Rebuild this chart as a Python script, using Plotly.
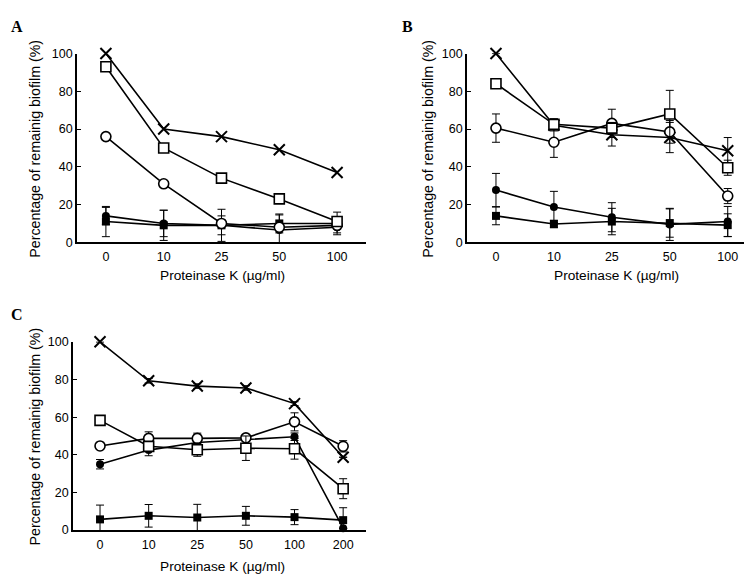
import plotly.graph_objects as go

# ---------------- data ----------------
cats_ab = ["0", "10", "25", "50", "100"]
cats_c = ["0", "10", "25", "50", "100", "200"]

# Panel A
a_x = [100, 60, 56, 49, 37]
a_sq_open = [93, 50, 34, 23, 11]
a_circ_open = [56, 31, 10, 8, 9]
a_circ_fill = [14, 10, 9, 6.5, 8]
a_circ_fill_err = [4.5, 7, 8.5, 8, 3]
a_sq_fill = [11, 9, 9, 10, 10]
a_sq_fill_err = [8, 8, 5, 5, 6]

# Panel B
b_x = [100, 62, 57, 55.5, 48.5]
b_x_err = [0, 3, 6, 8, 7]
b_sq_open = [84, 62.5, 60.5, 68, 39.5]
b_sq_open_err = [0, 3, 3, 12.5, 4]
b_circ_open = [60.5, 53, 63, 58.5, 24.5]
b_circ_open_err = [7.5, 8, 7.5, 6, 4]
b_circ_fill = [27.7, 18.7, 13.3, 9.5, 11]
b_circ_fill_err = [8.8, 8.3, 7.7, 8.5, 8]
b_sq_fill = [14, 9.7, 11, 10.2, 9.1]
b_sq_fill_err = [4.7, 2, 7, 7.5, 6]

# Panel C
c_x = [100, 79.3, 76.5, 75.5, 67.2, 38.7]
c_x_err = [0, 1.2, 1.2, 1.2, 1, 0]
c_sq_open = [58.3, 44.5, 42.7, 43.5, 43.2, 22]
c_sq_open_err = [0, 2, 3.5, 6.5, 5.5, 5.3]
c_circ_open = [44.7, 48.7, 48.7, 49, 57.5, 44.5]
c_circ_open_err = [0, 3.5, 2.8, 1.5, 4.8, 3]
c_circ_fill = [35, 42.5, 46.5, 48.2, 49.6, 1]
c_circ_fill_err = [2.5, 3, 1.5, 1, 2, 0]
c_sq_fill = [5.7, 7.6, 6.7, 7.6, 6.9, 5.3]
c_sq_fill_err = [7.6, 6, 7, 5, 4, 6.6]

W, H = 752, 574

fig = go.Figure()

LINE = dict(color="black", width=1.6)


def err(arr):
    return dict(type="data", array=arr, visible=True, color="black",
                thickness=1, width=4)


def add(xs, ys, kind, xa, ya, e=None):
    if kind == "x":
        marker = dict(symbol="x-thin", size=11, line=dict(color="black", width=2), color="black")
    elif kind == "sq_open":
        marker = dict(symbol="square", size=10, color="white", line=dict(color="black", width=1.6))
    elif kind == "circ_open":
        marker = dict(symbol="circle", size=10, color="white", line=dict(color="black", width=1.6))
    elif kind == "circ_fill":
        marker = dict(symbol="circle", size=8, color="black", line=dict(color="black", width=0))
    else:
        marker = dict(symbol="square", size=8, color="black", line=dict(color="black", width=0))
    fig.add_trace(go.Scatter(
        x=xs, y=ys, mode="lines+markers", line=LINE, marker=marker,
        error_y=err(e) if e is not None else None,
        xaxis=xa, yaxis=ya, showlegend=False, cliponaxis=False))


# Panel A
add(cats_ab, a_sq_fill, "sq_fill", "x", "y", a_sq_fill_err)
add(cats_ab, a_circ_fill, "circ_fill", "x", "y", a_circ_fill_err)
add(cats_ab, a_circ_open, "circ_open", "x", "y")
add(cats_ab, a_sq_open, "sq_open", "x", "y")
add(cats_ab, a_x, "x", "x", "y")

# Panel B
add(cats_ab, b_sq_fill, "sq_fill", "x2", "y2", b_sq_fill_err)
add(cats_ab, b_circ_fill, "circ_fill", "x2", "y2", b_circ_fill_err)
add(cats_ab, b_x, "x", "x2", "y2", b_x_err)
add(cats_ab, b_circ_open, "circ_open", "x2", "y2", b_circ_open_err)
add(cats_ab, b_sq_open, "sq_open", "x2", "y2", b_sq_open_err)

# Panel C
add(cats_c, c_sq_fill, "sq_fill", "x3", "y3", c_sq_fill_err)
add(cats_c, c_circ_fill, "circ_fill", "x3", "y3", c_circ_fill_err)
add(cats_c, c_x, "x", "x3", "y3", c_x_err)
add(cats_c, c_circ_open, "circ_open", "x3", "y3", c_circ_open_err)
add(cats_c, c_sq_open, "sq_open", "x3", "y3", c_sq_open_err)

TICKFONT = dict(family="Liberation Sans, Arial, sans-serif", size=12.5, color="black")


def xax(dom, rng):
    return dict(domain=dom, type="category", range=rng, showline=True,
                linecolor="black", linewidth=1.6, ticks="", showgrid=False,
                zeroline=False, tickfont=TICKFONT, fixedrange=True, ticklabelstandoff=2)


def yax(dom, anchor):
    return dict(domain=dom, range=[0, 100], tickvals=[0, 20, 40, 60, 80, 100],
                showline=True, linecolor="black", linewidth=1.6, ticks="inside",
                ticklen=4, tickwidth=1.3, tickcolor="black", showgrid=False,
                zeroline=False, tickfont=TICKFONT, anchor=anchor, fixedrange=True)


yA = [1 - 233 / H, 1 - 39.5 / H]
yC = [1 - 528 / H, 1 - 335 / H]

fig.update_layout(
    width=W, height=H, autosize=False,
    margin=dict(l=0, r=0, t=0, b=0),
    paper_bgcolor="white", plot_bgcolor="white",
    xaxis=dict(**xax([69 / W, 358 / W], [-0.5, 4.5]), anchor="y"),
    yaxis=yax(yA, "x"),
    xaxis2=dict(**xax([459 / W, 740 / W], [-0.5, 4.35]), anchor="y2"),
    yaxis2=yax(yA, "x2"),
    xaxis3=dict(**xax([65 / W, 358 / W], [-0.556, 5.47]), anchor="y3"),
    yaxis3=yax(yC, "x3"),
)

YTITLEFONT = dict(family="Liberation Sans, Arial, sans-serif", size=14.2, color="black")
XTITLEFONT = dict(family="Liberation Sans, Arial, sans-serif", size=13.7, color="black")
LABELFONT = dict(family="Liberation Serif, Times New Roman, serif", size=16, color="black")

ann = []
# panel letters
for txt, px, py in [("A", 9, 12), ("B", 399, 12), ("C", 9, 307)]:
    ann.append(dict(text="<b>%s</b>" % txt, x=px / W, y=1 - py / H, xref="paper", yref="paper",
                    showarrow=False, font=LABELFONT, xanchor="center", yanchor="middle"))
# y titles
for px, py in [(27, 137), (420, 137), (27, 432)]:
    ann.append(dict(text="Percentage of remainig biofilm (%)", x=px / W, y=1 - py / H,
                    xref="paper", yref="paper", showarrow=False, textangle=-90,
                    font=YTITLEFONT, xanchor="center", yanchor="middle"))
# x titles
for px, py in [(214, 267), (608, 267), (214, 565)]:
    ann.append(dict(text="Proteinase K (µg/ml)", x=px / W, y=1 - py / H,
                    xref="paper", yref="paper", showarrow=False,
                    font=XTITLEFONT, xanchor="center", yanchor="middle"))
fig.update_layout(annotations=ann)

fig.write_html("out.html")
